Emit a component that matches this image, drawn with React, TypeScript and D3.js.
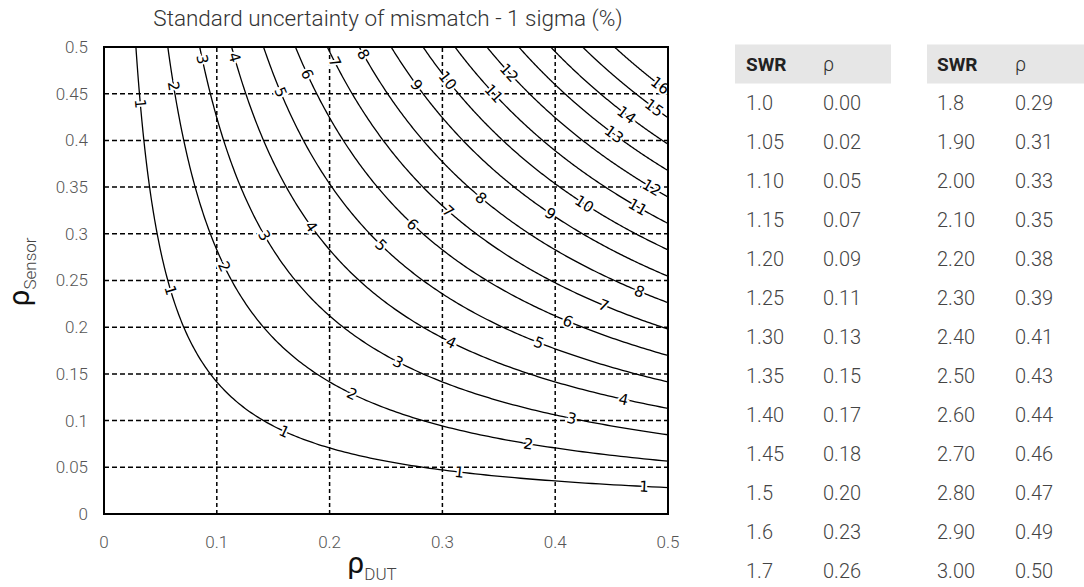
import React from 'react'
import * as d3 from 'd3'

// contour levels, standard uncertainty of mismatch in %
const levels = [1, 2, 3, 4, 5, 6, 7, 8, 9, 10, 11, 12, 13, 14, 15, 16]

// where the inline contour labels sit (snapped to the curve)
const labelLevels = [1, 1, 1, 1, 1, 2, 2, 2, 2, 3, 3, 3, 3, 4, 4, 4, 4, 5, 5, 5, 6, 6, 6, 7, 7, 7, 8, 8, 8, 9, 9, 10, 10, 11, 11, 12, 12, 13, 14, 15, 16]
const labelDut = [0.030, 0.056, 0.160, 0.316, 0.477, 0.059, 0.107, 0.219, 0.375, 0.083, 0.141, 0.260, 0.413, 0.112, 0.181, 0.307, 0.462, 0.153, 0.245, 0.385, 0.176, 0.273, 0.410, 0.203, 0.304, 0.444, 0.229, 0.332, 0.475, 0.274, 0.394, 0.302, 0.424, 0.345, 0.471, 0.357, 0.484, 0.451, 0.460, 0.488, 0.490]
const labelSensor = [0.441, 0.237, 0.087, 0.043, 0.029, 0.459, 0.264, 0.124, 0.074, 0.486, 0.296, 0.160, 0.101, 0.489, 0.304, 0.181, 0.121, 0.451, 0.286, 0.183, 0.470, 0.309, 0.203, 0.483, 0.323, 0.223, 0.491, 0.334, 0.237, 0.457, 0.320, 0.461, 0.328, 0.449, 0.323, 0.470, 0.347, 0.404, 0.422, 0.435, 0.454]

const xTicks = [0, 0.1, 0.2, 0.3, 0.4, 0.5]
const xTickLabels = ['0', '0.1', '0.2', '0.3', '0.4', '0.5']
const yTicks = [0, 0.05, 0.1, 0.15, 0.2, 0.25, 0.3, 0.35, 0.4, 0.45, 0.5]
const yTickLabels = ['0', '0.05', '0.1', '0.15', '0.2', '0.25', '0.3', '0.35', '0.4', '0.45', '0.5']

// SWR to reflection coefficient table
const swrA = ['1.0', '1.05', '1.10', '1.15', '1.20', '1.25', '1.30', '1.35', '1.40', '1.45', '1.5', '1.6', '1.7']
const rhoA = ['0.00', '0.02', '0.05', '0.07', '0.09', '0.11', '0.13', '0.15', '0.17', '0.18', '0.20', '0.23', '0.26']
const swrB = ['1.8', '1.90', '2.00', '2.10', '2.20', '2.30', '2.40', '2.50', '2.60', '2.70', '2.80', '2.90', '3.00']
const rhoB = ['0.29', '0.31', '0.33', '0.35', '0.38', '0.39', '0.41', '0.43', '0.44', '0.46', '0.47', '0.49', '0.50']

const title = 'Standard uncertainty of mismatch - 1 sigma (%)'

export default function App() {
  const width = 1084
  const height = 587
  const font = 'Roboto, "Open Sans", sans-serif'

  const x = d3.scaleLinear().domain([0, 0.5]).range([104, 668])
  const y = d3.scaleLinear().domain([0, 0.5]).range([514, 47])

  // u = rho_dut * rho_sensor / sqrt(2), in percent
  const product = (level: number) => (level * Math.SQRT2) / 100

  const line = d3.line<number[]>()
    .x(d => x(d[0]))
    .y(d => y(d[1]))

  function curvePoints(level: number) {
    const k = product(level)
    const x0 = k / 0.5
    const n = 200
    const pts: number[][] = []
    for (let i = 0; i < n; i++) {
      const xd = x0 * Math.pow(0.5 / x0, i / (n - 1))
      pts.push([xd, k / xd])
    }
    return pts
  }

  const curves = new Map(levels.map(lv => [lv, curvePoints(lv)]))

  // put each label on the nearest point of its curve (in screen space)
  const labels = labelLevels.map((lv, i) => {
    const pts = curves.get(lv) as number[][]
    const tx = x(labelDut[i]), ty = y(labelSensor[i])
    let best = 1
    let bestD = Infinity
    for (let j = 1; j < pts.length - 1; j++) {
      const d = (x(pts[j][0]) - tx) ** 2 + (y(pts[j][1]) - ty) ** 2
      if (d < bestD) { bestD = d; best = j }
    }
    const a = pts[best - 1], b = pts[best + 1]
    const angle = (Math.atan2(y(b[1]) - y(a[1]), x(b[0]) - x(a[0])) * 180) / Math.PI
    return { level: lv, px: x(pts[best][0]), py: y(pts[best][1]), angle }
  })

  const row = d3.scaleLinear().domain([-1, 12]).range([64, 571])
  const tables = [
    { left: 735, right: 891, c1: 746, c2: 823, swr: swrA, rho: rhoA },
    { left: 927, right: 1084, c1: 937, c2: 1015, swr: swrB, rho: rhoB },
  ]

  return (
    <svg width={width} height={height} style={{ position: 'absolute', left: 0, top: 0, background: '#fff' }}>
      <defs>
        <clipPath id="plot">
          <rect x={x(0)} y={y(0.5)} width={x(0.5) - x(0)} height={y(0) - y(0.5)} />
        </clipPath>
      </defs>

      <text x={(x(0) + x(0.5)) / 2 + 2} y={26} textAnchor="middle" fontFamily={font} fontWeight={300}
        fontSize={22.5} fill="#333">{title}</text>

      {/* grid */}
      {xTicks.slice(1, -1).map(t => (
        <line key={'gx' + t} x1={x(t)} x2={x(t)} y1={y(0)} y2={y(0.5)} stroke="#000"
          strokeWidth={1.5} strokeDasharray="4,3" />
      ))}
      {yTicks.slice(1, -1).map(t => (
        <line key={'gy' + t} x1={x(0)} x2={x(0.5)} y1={y(t)} y2={y(t)} stroke="#000"
          strokeWidth={1.5} strokeDasharray="5,3" />
      ))}

      {/* contours */}
      <g clipPath="url(#plot)">
        {levels.map(lv => (
          <path key={lv} d={line(curves.get(lv) as number[][]) || ''} fill="none" stroke="#000" strokeWidth={1.3} />
        ))}
        {labels.map((l, i) => (
          <text key={i} x={l.px} y={l.py} dy="0.35em" textAnchor="middle"
            transform={`rotate(${l.angle},${l.px},${l.py})`}
            fontFamily='"DejaVu Sans", sans-serif' fontSize={15} fill="#000"
            stroke="#fff" strokeWidth={4} paintOrder="stroke">{l.level}</text>
        ))}
      </g>

      <rect x={x(0)} y={y(0.5)} width={x(0.5) - x(0)} height={y(0) - y(0.5)} fill="none"
        stroke="#000" strokeWidth={2} />

      {/* ticks */}
      {xTicks.map((t, i) => (
        <text key={'tx' + t} x={x(t)} y={548} textAnchor="middle" fontFamily={font} fontWeight={300}
          fontSize={17} fill="#555">{xTickLabels[i]}</text>
      ))}
      {yTicks.map((t, i) => (
        <text key={'ty' + t} x={88} y={y(t)} dy="0.35em" textAnchor="end" fontFamily={font} fontWeight={300}
          fontSize={17} fill="#555">{yTickLabels[i]}</text>
      ))}

      {/* axis titles */}
      <text x={372} y={573} textAnchor="middle" fontFamily={font} fill="#111" fontSize={30}>
        ρ<tspan fontSize={17} fontWeight={300} dy={7} fill="#444">DUT</tspan>
      </text>
      <text transform="translate(29,272) rotate(-90)" textAnchor="middle" fontFamily={font} fill="#111" fontSize={30}>
        ρ<tspan fontSize={17} fontWeight={300} dy={7} fill="#444">Sensor</tspan>
      </text>

      {/* SWR table */}
      {tables.map((tb, ti) => (
        <g key={ti} fontFamily={font}>
          <rect x={tb.left} y={row(-1) - 19.5} width={tb.right - tb.left} height={39} fill="#e6e6e6" />
          <text x={tb.c1} y={row(-1)} dy="0.35em" fontSize={19} fontWeight={700} fill="#222">SWR</text>
          <text x={tb.c2} y={row(-1)} dy="0.35em" fontSize={20} fontWeight={300} fill="#333">ρ</text>
          {tb.swr.map((s, i) => (
            <React.Fragment key={i}>
              <text x={tb.c1} y={row(i)} dy="0.35em" fontSize={20} fontWeight={300} fill="#444">{s}</text>
              <text x={tb.c2} y={row(i)} dy="0.35em" fontSize={20} fontWeight={300} fill="#444">{tb.rho[i]}</text>
            </React.Fragment>
          ))}
        </g>
      ))}
    </svg>
  )
}
